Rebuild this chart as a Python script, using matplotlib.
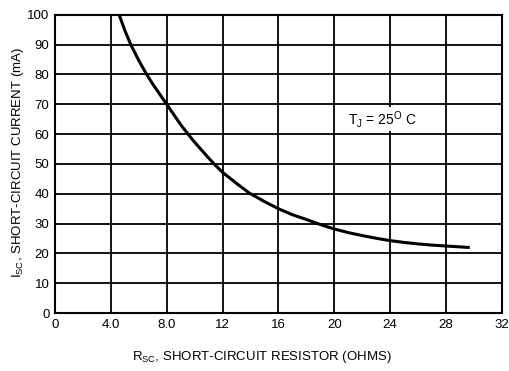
import matplotlib
matplotlib.use("Agg")
import matplotlib.pyplot as plt
from matplotlib import font_manager

# Data
r_sc = [4.6, 5.0, 5.43, 6.0, 6.57, 7.0, 8.0, 9.0, 9.53, 10.0, 11.0, 11.4, 12.0, 13.0,
        13.9, 15.0, 16.0, 17.0, 18.0, 19.0, 20.0, 21.0, 22.0, 23.0, 24.0, 25.0, 26.0,
        27.0, 28.0, 29.0, 29.7]
i_sc = [100, 94.8, 90, 84.7, 80, 76.8, 70, 63.2, 60, 57.3, 52, 50, 47.2, 43.5,
        40.3, 37.4, 35, 33.0, 31.4, 29.7, 28.2, 27.0, 26.0, 25.1, 24.3, 23.7, 23.2,
        22.8, 22.5, 22.2, 22.0]
x_ticks = [0, 4, 8, 12, 16, 20, 24, 28, 32]
x_tick_labels = ["0", "4.0", "8.0", "12", "16", "20", "24", "28", "32"]
y_ticks = [0, 10, 20, 30, 40, 50, 60, 70, 80, 90, 100]

names = {f.name for f in font_manager.fontManager.ttflist}
fam = [n for n in ["Liberation Sans Narrow", "Liberation Sans", "DejaVu Sans"] if n in names]
plt.rcParams['font.family'] = fam
plt.rcParams['mathtext.fontset'] = 'custom'
plt.rcParams['mathtext.rm'] = fam[0]

fig = plt.figure(figsize=(5.09, 3.71), dpi=100)
ax = fig.add_axes([0.108, 0.156, 0.878, 0.804])

ax.set_xlim(0, 32)
ax.set_ylim(0, 100)
ax.set_xticks(x_ticks)
ax.set_xticklabels(x_tick_labels)
ax.set_yticks(y_ticks)
ax.grid(True, color='black', linewidth=1.3)
ax.set_axisbelow(True)
for s in ax.spines.values():
    s.set_linewidth(1.5)
ax.tick_params(length=0, labelsize=9.5, pad=4)

ax.plot(r_sc, i_sc, color='black', linewidth=2.2, solid_capstyle='butt')

ax.text(21.0, 65, "T$_\\mathregular{J}$ = 25$^\\mathregular{O}$ C", fontsize=10,
        ha='left', va='center',
        bbox=dict(facecolor='white', edgecolor='none', pad=1))

fig.text(262 / 509, 1 - 357 / 371, "R$_\\mathregular{SC}$, SHORT-CIRCUIT RESISTOR (OHMS)",
         fontsize=9.5, ha='center', va='center')
fig.text(18 / 509, 1 - 163 / 371, "I$_\\mathregular{SC}$, SHORT-CIRCUIT CURRENT (mA)",
         fontsize=9.5, ha='center', va='center', rotation=90)

fig.savefig("out.png", dpi=100)
